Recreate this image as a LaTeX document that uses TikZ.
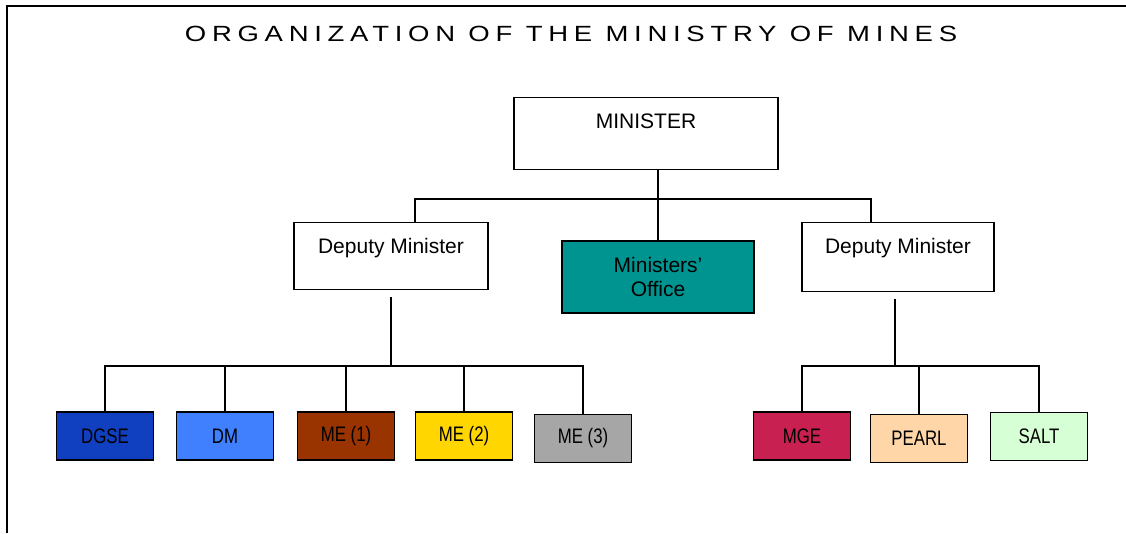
\documentclass[tikz,border=0pt]{standalone}
\usepackage{fontspec}
\setmainfont{Liberation Sans}
\newfontfamily\narrowfont[FakeStretch=0.8]{Liberation Sans}
\newfontfamily\titlefont[LetterSpace=26,FakeStretch=1.25]{Liberation Sans}
\definecolor{teal}{RGB}{0,148,144}
\definecolor{dgseblue}{RGB}{16,64,192}
\definecolor{dmblue}{RGB}{64,128,255}
\definecolor{brown}{RGB}{153,51,0}
\definecolor{gold}{RGB}{255,214,0}
\definecolor{grey}{RGB}{166,166,166}
\definecolor{crimson}{RGB}{200,32,80}
\definecolor{peach}{RGB}{255,214,168}
\definecolor{mint}{RGB}{214,255,214}

\begin{document}
\begin{tikzpicture}[x=1pt,y=-1pt,
    box/.style={draw,line width=1.4pt,inner sep=0pt,
      font=\fontsize{21}{24}\selectfont},
    topbox/.style={box,anchor=north,text height=15pt,inner ysep=16pt},
    unit/.style={box,minimum width=97,minimum height=48,
      font=\fontsize{21}{24}\selectfont\narrowfont},
    link/.style={line width=1.2pt}]
    \useasboundingbox (0,0) rectangle (1126,533);
    % frame
    \draw[line width=2.4pt] (7,533) -- (7,6) -- (1126,6);
    \node (title) at (571,34) {\fontsize{22}{26}\selectfont\titlefont ORGANIZATION OF THE MINISTRY OF MINES};

    % top levels
    \node[topbox,minimum width=264,text depth=25pt] (min) at (646,97) {MINISTER};
    \node[topbox,minimum width=194,text depth=20pt] (dml) at (391,222) {Deputy Minister};
    \node[topbox,minimum width=192,text depth=22pt] (dmr) at (898,222) {Deputy Minister};
    \node[box,fill=teal,minimum width=192,minimum height=72,align=center] (off) at (658,277) {Ministers'\\Office};

    % units
    \node[unit,fill=dgseblue] (dgse) at (105,436) {DGSE};
    \node[unit,fill=dmblue] (dm) at (225,436) {DM};
    \node[unit,fill=brown] (me1) at (346,436) {ME (1)};
    \node[unit,fill=gold] (me2) at (464,436) {ME (2)};
    \node[unit,fill=grey] (me3) at (583,438.5) {ME (3)};
    \node[unit,fill=crimson] (mge) at (802,436) {MGE};
    \node[unit,fill=peach] (pearl) at (919,438.5) {PEARL};
    \node[unit,fill=mint] (salt) at (1039,436.5) {SALT};

    % connectors
    \coordinate (bus) at (658,199);
    \coordinate (lbus) at (391,366);
    \coordinate (rbus) at (895,366);
    \draw[link] (off.north |- min.south) -- (off.north);
    \draw[link] ([xshift=24]dml.north) |- (bus) -| ([xshift=-27]dmr.north);
    \draw[link] ([yshift=-7]dml.south) -- (lbus);
    \draw[link] ([xshift=-3,yshift=-7]dmr.south) -- (rbus);
    \draw[link] (dgse.north) |- (lbus) -| (me3.north);
    \foreach \n in {dm,me1,me2}
      \draw[link] (\n.north) -- (\n.north |- lbus);
    \draw[link] (mge.north) |- (rbus) -| (salt.north);
    \draw[link] (pearl.north) -- (pearl.north |- rbus);
\end{tikzpicture}
\end{document}
